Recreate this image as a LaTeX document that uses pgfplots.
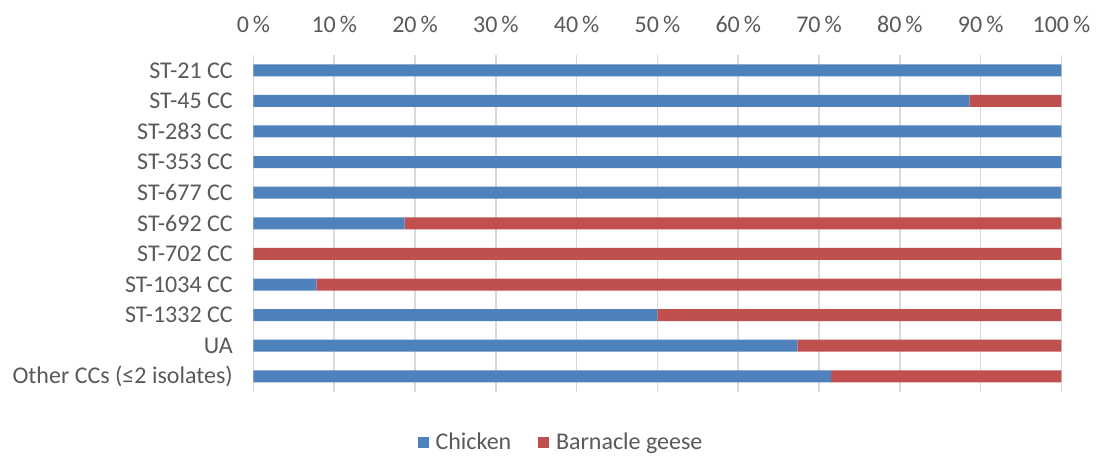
\documentclass[border=0pt]{standalone}
\usepackage{pgfplots}
\pgfplotsset{compat=1.18}
\usepackage{pgfplotstable}
\usepackage{fontspec}
\setmainfont{Carlito}

\definecolor{chicken}{HTML}{4F81BD}
\definecolor{geese}{HTML}{C0504D}
\definecolor{labelgray}{HTML}{595959}
\definecolor{gridgray}{HTML}{D9D9D9}

% share of isolates (in %) per clonal complex
\pgfplotstableread{
idx chicken geese
0   100    0
1   88.6   11.4
2   100    0
3   100    0
4   100    0
5   18.7   81.3
6   0      100
7   7.8    92.2
8   50     50
9   67.3   32.7
10  71.5   28.5
}\cctable

\begin{document}
\begin{tikzpicture}[x=1pt,y=1pt]
\useasboundingbox (0,0) rectangle (824.25,342);
\begin{axis}[
  at={(190.1pt,48.3pt)}, anchor=south west,
  scale only axis,
  width=606pt, height=252.45pt,
  xbar stacked,
  bar width=9pt,
  xmin=0, xmax=100,
  ymin=-0.5, ymax=10.5,
  y dir=reverse,
  xtick={0,10,...,100},
  xticklabels={0\,\%,10\,\%,20\,\%,30\,\%,40\,\%,50\,\%,60\,\%,70\,\%,80\,\%,90\,\%,100\,\%},
  xticklabel pos=upper,
  ytick={0,...,10},
  yticklabels={ST-21 CC,ST-45 CC,ST-283 CC,ST-353 CC,ST-677 CC,ST-692 CC,ST-702 CC,ST-1034 CC,ST-1332 CC,UA,Other CCs (≤2 isolates)},
  major tick length=0pt,
  axis line style={draw=none},
  xmajorgrids,
  grid style={draw=gridgray, line width=1.2pt},
  tick label style={font=\fontsize{18}{21}\selectfont, text=labelgray},
  xticklabel style={yshift=13pt},
  yticklabel style={anchor=east, xshift=-12pt},
  legend columns=2,
  legend style={
    at={(0.381,-0.150)}, anchor=center,
    draw=none, fill=none,
    font=\fontsize{18}{21}\selectfont, text=labelgray,
    /tikz/every even column/.append style={column sep=18pt},
  },
  legend image code/.code={\fill[#1] (0pt,-4.1pt) rectangle (8.25pt,4.1pt); \path (11.5pt,0pt);},
]
\addplot[fill=chicken, draw=none] table[x=chicken, y=idx] {\cctable};
\addplot[fill=geese, draw=none] table[x=geese, y=idx] {\cctable};
\legend{Chicken, Barnacle geese}
\end{axis}
\end{tikzpicture}
\end{document}
